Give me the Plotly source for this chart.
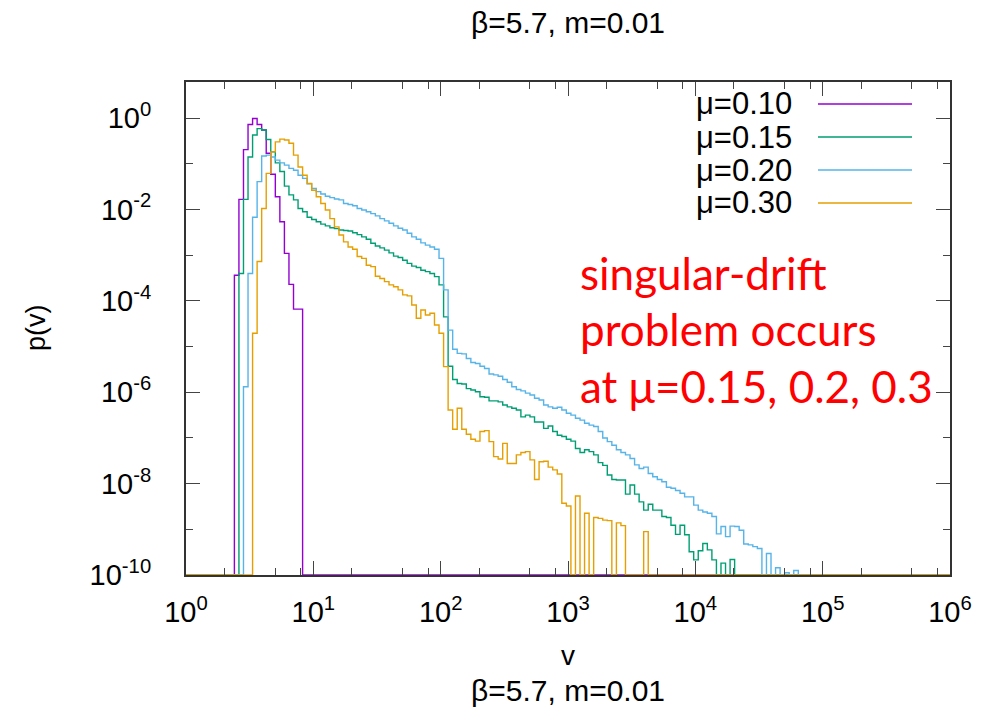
import numpy as np
import plotly.graph_objects as go

# ---------------- data ----------------
# histogram bins: log10 edges start at BIN_LOG0 and are BIN_DW decades wide
BIN_LOG0 = 0.380
BIN_DW = 1.0 / 28.0

SERIES_NAMES = ["μ=0.10", "μ=0.15", "μ=0.20", "μ=0.30"]
SERIES_COLORS = ["#9400d3", "#009e73", "#56b4e9", "#e69f00"]

# first bin index of each series
START_MU010 = 0
START_MU015 = 1
START_MU020 = 2
START_MU030 = 4

# log10 p(v) per bin (None = empty bin)
LOGP_MU010 = [-3.44, -1.78, -0.69, -0.14, -0.01, -0.14, -0.26, -0.77, -1.23, -1.72,
              -2.27, -2.96, -3.64, -4.18, -4.18]

LOGP_MU015 = [-3.40, -1.78, -0.85, -0.37, -0.23, -0.26, -0.47, -0.74, -0.98, -1.17,
              -1.49, -1.68, -1.79, -1.98, -2.05, -2.17, -2.22, -2.27, -2.32, -2.36,
              -2.40, -2.42, -2.45, -2.46, -2.47, -2.51, -2.55, -2.60, -2.65, -2.74,
              -2.80, -2.84, -2.89, -2.95, -3.02, -3.05, -3.11, -3.18, -3.24, -3.27,
              -3.33, -3.36, -3.40, -3.47, -3.65, -4.35, -5.43, -5.72, -5.81, -5.82,
              -5.92, -5.95, -5.99, -6.10, -6.11, -6.19, -6.19, -6.21, -6.28, -6.32,
              -6.35, -6.39, -6.54, -6.50, -6.54, -6.65, -6.65, -6.79, -6.74, -6.86,
              -6.94, -6.97, -7.03, -7.07, -7.23, -7.32, -7.26, -7.30, -7.37, -7.54,
              -7.60, -7.81, -7.91, -7.92, -7.92, -8.23, -8.03, -8.23, -8.40, -8.58,
              -8.45, -8.58, -8.58, -8.72, -8.74, -8.91, -9.11, -8.91, -9.12, -9.49,
              -9.67, -9.47, -9.31, -9.45, -9.67, None, -9.74, None, -9.66]

LOGP_MU020 = [-5.88, -3.40, -2.17, -1.39, -0.83, -0.81, -0.85, -0.92, -0.98, -1.03,
              -1.10, -1.14, -1.25, -1.32, -1.44, -1.54, -1.61, -1.66, -1.71, -1.74,
              -1.77, -1.79, -1.87, -1.89, -1.92, -1.98, -2.01, -2.05, -2.09, -2.14,
              -2.20, -2.25, -2.30, -2.36, -2.41, -2.45, -2.52, -2.60, -2.65, -2.73,
              -2.78, -2.82, -2.87, -3.07, -3.76, -4.64, -5.06, -5.15, -5.16, -5.26,
              -5.35, -5.37, -5.43, -5.48, -5.60, -5.62, -5.65, -5.72, -5.78, -5.88,
              -5.94, -5.97, -6.02, -6.06, -6.13, -6.17, -6.28, -6.32, -6.35, -6.33,
              -6.39, -6.46, -6.50, -6.57, -6.61, -6.68, -6.72, -6.75, -6.86, -7.00,
              -7.08, -7.16, -7.26, -7.32, -7.37, -7.45, -7.59, -7.67, -7.64, -7.78,
              -7.85, -7.91, -7.96, -8.08, -8.10, -8.15, -8.21, -8.29, -8.29, -8.47,
              -8.58, -8.62, -8.65, -8.72, -9.10, -8.94, -9.16, -8.93, -8.94, -9.02,
              -9.32, -9.34, -9.38, -9.42, None, -9.53, None, -9.84, None, -9.95,
              None, -9.90]

LOGP_MU030 = [-4.71, -3.14, -1.98, -1.21, -0.74, -0.52, -0.46, -0.48, -0.55, -0.81,
              -1.07, -1.25, -1.43, -1.58, -1.72, -1.87, -2.01, -2.20, -2.38, -2.56,
              -2.71, -2.82, -2.87, -3.03, -3.07, -3.22, -3.25, -3.46, -3.51, -3.58,
              -3.65, -3.69, -3.76, -3.87, -3.89, -4.09, -4.38, -4.20, -4.31, -4.27,
              -4.53, -4.71, -5.44, -6.39, -6.81, -6.35, -6.81, -6.92, -7.03, -7.07,
              -6.86, -6.84, -7.08, -7.41, -7.46, -7.12, -7.56, -7.56, -7.37, -7.32,
              -7.30, -7.48, -7.91, -7.52, -7.51, -7.64, -7.70, -7.79, -8.43, -8.49,
              None, -8.27, None, -8.65, None, -8.74, -8.76, -8.80, -8.81, None,
              -8.86, -8.92, None, None, None, None, -9.05]

X_TICK_EXP = [0, 1, 2, 3, 4, 5, 6]
Y_TICK_EXP = [0, -2, -4, -6, -8, -10]
Y_MINOR_EXP = [-1, -3, -5, -7, -9]
X_MINOR_MANT = [2, 5, 8]

TITLE = "β=5.7, m=0.01"
XLABEL = "v"
YLABEL = "p(v)"
NOTE_LINES = ["singular-drift", "problem occurs", "at μ=0.15, 0.2, 0.3"]

# ---------------- figure ----------------
X_MIN, X_MAX = 1.0, 1e6
Y_FLOOR = 1e-10
Y_LOG_RANGE = [-10, 0.79]

W, H = 986, 711
ML, MR, MT, MB = 186, 36, 82, 136
PW, PH = W - ML - MR, H - MT - MB


def px_to_paper(x, y):
    return (x - ML) / PW, (H - MB - y) / PH


def step_xy(start, logp):
    n = len(logp)
    edges = 10 ** (BIN_LOG0 + BIN_DW * np.arange(start, start + n + 1))
    vals = [Y_FLOOR if v is None else 10 ** v for v in logp]
    xs = [X_MIN] + list(edges) + [X_MAX]
    ys = [Y_FLOOR] + vals + [Y_FLOOR, Y_FLOOR]
    return xs, ys


fig = go.Figure()
all_series = [(START_MU010, LOGP_MU010), (START_MU015, LOGP_MU015),
              (START_MU020, LOGP_MU020), (START_MU030, LOGP_MU030)]
for (start, logp), name, col in zip(all_series, SERIES_NAMES, SERIES_COLORS):
    xs, ys = step_xy(start, logp)
    fig.add_trace(go.Scatter(x=xs, y=ys, mode="lines", name=name,
                             line=dict(color=col, width=1.4, shape="hv"),
                             showlegend=False))

FONT = "Liberation Sans, Arial, sans-serif"
axis_common = dict(type="log", showline=True, linewidth=2, linecolor="#333333",
                   mirror="allticks", ticks="inside", ticklen=14, tickwidth=1,
                   tickcolor="#444444", showgrid=False, zeroline=False,
                   tickfont=dict(family=FONT, size=29, color="black"))

fig.update_xaxes(range=[0, 6],
                 tickvals=[10 ** e for e in X_TICK_EXP],
                 ticktext=[f"10<sup>{e}</sup>" for e in X_TICK_EXP],
                 ticklabelstandoff=10,
                 minor=dict(tickvals=[m * 10 ** e for e in X_TICK_EXP[:-1] for m in X_MINOR_MANT],
                            ticks="inside", ticklen=7, tickcolor="#444444", tickwidth=1),
                 **axis_common)
fig.update_yaxes(range=Y_LOG_RANGE,
                 tickvals=[10.0 ** e for e in Y_TICK_EXP],
                 ticktext=[f"10<sup>{e}</sup>" for e in Y_TICK_EXP],
                 ticklabelstandoff=27,
                 minor=dict(tickvals=[10.0 ** e for e in Y_MINOR_EXP],
                            ticks="inside", ticklen=7, tickcolor="#444444", tickwidth=1),
                 **axis_common)

ann = []
cx = (ML + (W - MR)) / 2
for txt, y, size in [(TITLE, 23, 30), (XLABEL, 655, 28), (TITLE, 690, 30)]:
    px, py = px_to_paper(cx, y)
    ann.append(dict(text=txt, x=px, y=py, xref="paper", yref="paper", showarrow=False,
                    xanchor="center", yanchor="middle",
                    font=dict(family=FONT, size=size, color="black")))
px, py = px_to_paper(36, 328)
ann.append(dict(text=YLABEL, x=px, y=py, xref="paper", yref="paper", showarrow=False,
                textangle=-90, xanchor="center", yanchor="middle",
                font=dict(family=FONT, size=27, color="black")))

# legend drawn gnuplot-style: text right-aligned, sample line to the right
shapes = []
LEG_Y = [104, 137, 170, 203]
for name, col, y in zip(SERIES_NAMES, SERIES_COLORS, LEG_Y):
    px, py = px_to_paper(794, y)
    ann.append(dict(text=name, x=px, y=py, xref="paper", yref="paper", showarrow=False,
                    xanchor="right", yanchor="middle",
                    font=dict(family=FONT, size=31, color="black")))
    x0, yy = px_to_paper(818, y)
    x1, _ = px_to_paper(912, y)
    shapes.append(dict(type="line", xref="paper", yref="paper", x0=x0, x1=x1, y0=yy, y1=yy,
                       line=dict(color=col, width=1.4)))

NOTE_Y = [273, 329, 386]
for line, y in zip(NOTE_LINES, NOTE_Y):
    px, py = px_to_paper(578, y)
    ann.append(dict(text=line, x=px, y=py, xref="paper", yref="paper", showarrow=False,
                    xanchor="left", yanchor="middle",
                    font=dict(family="Lato, sans-serif", size=44, color="#ff0000")))

fig.update_layout(width=W, height=H, margin=dict(l=ML, r=MR, t=MT, b=MB),
                  paper_bgcolor="white", plot_bgcolor="white",
                  annotations=ann, shapes=shapes, showlegend=False)

fig.write_html("out.html")
